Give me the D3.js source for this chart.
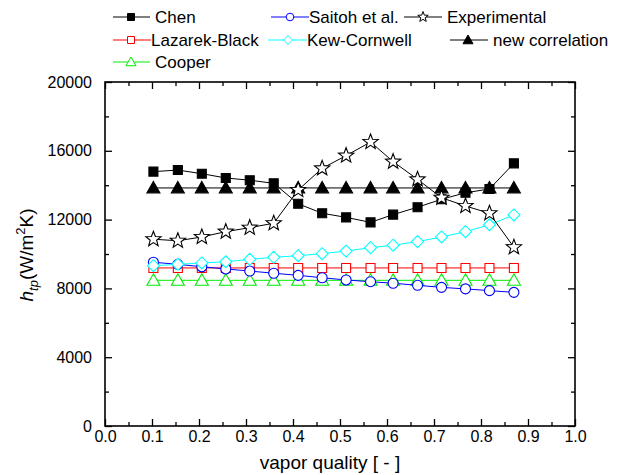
<!DOCTYPE html>
<html>
<head>
<meta charset="utf-8">
<script src="https://cdn.jsdelivr.net/npm/d3@7"></script>
<style>
  html, body { margin: 0; padding: 0; background: #fff; }
  svg { display: block; font-family: Arial, "Liberation Sans", sans-serif; }
</style>
</head>
<body>
<svg id="chart" width="621" height="475"></svg>
<script>
// ---- data ----
const vaporQuality = [0.103, 0.155, 0.206, 0.257, 0.308, 0.359, 0.411, 0.462, 0.513, 0.565, 0.613, 0.665, 0.716, 0.767, 0.818, 0.870];
const chen         = [14790, 14880, 14670, 14420, 14290, 14110, 12920, 12370, 12130, 11840, 12290, 12720, 13180, 13560, 13780, 15270];
const lazarekBlack = [9190, 9190, 9190, 9190, 9190, 9190, 9190, 9190, 9190, 9190, 9190, 9190, 9190, 9190, 9190, 9190];
const cooper       = [8470, 8470, 8470, 8470, 8470, 8470, 8470, 8470, 8470, 8470, 8470, 8470, 8470, 8470, 8470, 8470];
const saitoh       = [9520, 9400, 9260, 9130, 9010, 8880, 8760, 8620, 8490, 8390, 8300, 8180, 8060, 7970, 7870, 7770];
const kewCornwell  = [9320, 9400, 9480, 9550, 9690, 9810, 9900, 10020, 10170, 10370, 10510, 10720, 10990, 11300, 11700, 12270];
const experimental = [10860, 10770, 10990, 11300, 11530, 11790, 13720, 14980, 15720, 16510, 15370, 14340, 13270, 12790, 12370, 10390];
const newCorrelation = [13840, 13840, 13840, 13840, 13840, 13840, 13840, 13840, 13840, 13840, 13840, 13840, 13840, 13840, 13840, 13840];
const xTicks = [0.0, 0.1, 0.2, 0.3, 0.4, 0.5, 0.6, 0.7, 0.8, 0.9, 1.0];
const yTicks = [0, 4000, 8000, 12000, 16000, 20000];

// ---- layout ----
const L = 105, R = 575, T = 82, B = 426;
const svg = d3.select("#chart");
const x = d3.scaleLinear().domain([0, 1]).range([L, R]);
const y = d3.scaleLinear().domain([0, 20000]).range([B, T]);

// marker shapes
function shapePath(type, s) {
  const p = d3.path();
  if (type === "square") { p.rect(-s, -s, 2*s, 2*s); }
  else if (type === "circle") { p.arc(0, 0, s, 0, 2*Math.PI); p.closePath(); }
  else if (type === "diamond") { p.moveTo(0,-s); p.lineTo(s,0); p.lineTo(0,s); p.lineTo(-s,0); p.closePath(); }
  else if (type === "triangle") { p.moveTo(0,-s); p.lineTo(s*1.0, s*0.75); p.lineTo(-s*1.0, s*0.75); p.closePath(); }
  else if (type === "star") {
    const ri = s*0.42;
    for (let i = 0; i < 10; i++) {
      const r = i % 2 === 0 ? s : ri;
      const a = -Math.PI/2 + i*Math.PI/5;
      if (i === 0) p.moveTo(r*Math.cos(a), r*Math.sin(a)); else p.lineTo(r*Math.cos(a), r*Math.sin(a));
    }
    p.closePath();
  }
  return p.toString();
}

const series = [
  {name: "Chen", values: chen, color: "#000", shape: "square", fill: "#000", size: 4.5, lsize: 3.5},
  {name: "Lazarek-Black", values: lazarekBlack, color: "#ff0000", shape: "square", fill: "#fff", size: 4.5, lsize: 3.5},
  {name: "Cooper", values: cooper, color: "#00ee00", shape: "triangle", fill: "#fff", size: 6.5, lsize: 5},
  {name: "Saitoh et al.", values: saitoh, color: "#0000ff", shape: "circle", fill: "#fff", size: 5, lsize: 3.8},
  {name: "Kew-Cornwell", values: kewCornwell, color: "#00ffff", shape: "diamond", fill: "#fff", size: 6, lsize: 4.5},
  {name: "new correlation", values: newCorrelation, color: "#000", shape: "triangle", fill: "#000", size: 6.5, lsize: 5},
  {name: "Experimental", values: experimental, color: "#000", shape: "star", fill: "#fff", size: 8, lsize: 5.5}
];

// ---- axes ----
const minorX = d3.range(0.05, 1, 0.1);
const minorY = d3.range(2000, 20000, 4000);
function styleAxis(g) {
  g.select(".domain").remove();
  g.selectAll("line").attr("stroke", "#000").attr("stroke-width", 1.3);
  g.selectAll("text").attr("fill", "#000").attr("font-size", 16);
}
svg.append("g").attr("transform", `translate(0,${B})`)
  .call(d3.axisBottom(x).tickValues(xTicks).tickFormat(d3.format(".1f")).tickSize(-7).tickPadding(5)).call(styleAxis);
svg.append("g").attr("transform", `translate(0,${B})`)
  .call(d3.axisBottom(x).tickValues(minorX).tickFormat("").tickSize(-4)).call(styleAxis);
svg.append("g").attr("transform", `translate(0,${T})`)
  .call(d3.axisTop(x).tickValues(xTicks).tickFormat("").tickSize(-7)).call(styleAxis);
svg.append("g").attr("transform", `translate(0,${T})`)
  .call(d3.axisTop(x).tickValues(minorX).tickFormat("").tickSize(-4)).call(styleAxis);
svg.append("g").attr("transform", `translate(${L},0)`)
  .call(d3.axisLeft(y).tickValues(yTicks).tickFormat(d3.format("d")).tickSize(-7).tickPadding(13)).call(styleAxis);
svg.append("g").attr("transform", `translate(${L},0)`)
  .call(d3.axisLeft(y).tickValues(minorY).tickFormat("").tickSize(-4)).call(styleAxis);
svg.append("g").attr("transform", `translate(${R},0)`)
  .call(d3.axisRight(y).tickValues(yTicks).tickFormat("").tickSize(-7)).call(styleAxis);
svg.append("g").attr("transform", `translate(${R},0)`)
  .call(d3.axisRight(y).tickValues(minorY).tickFormat("").tickSize(-4)).call(styleAxis);

svg.append("rect").attr("x", L).attr("y", T).attr("width", R - L).attr("height", B - T)
  .attr("fill", "none").attr("stroke", "#000").attr("stroke-width", 1.6);

// ---- data series ----
const line = d3.line().x((d, i) => x(vaporQuality[i])).y(d => y(d));
series.forEach(s => {
  const g = svg.append("g");
  g.append("path").datum(s.values).attr("d", line).attr("fill", "none")
    .attr("stroke", s.color).attr("stroke-width", 1);
  g.selectAll("path.m").data(s.values).join("path").attr("class", "m")
    .attr("transform", (d, i) => `translate(${x(vaporQuality[i])},${y(d)})`)
    .attr("d", shapePath(s.shape, s.size))
    .attr("fill", s.fill).attr("stroke", s.color).attr("stroke-width", 1.1);
});

// ---- legend ----
const legendPos = {
  "Chen":            {x1: 113, x2: 150, m: 131, tx: 155, y: 17},
  "Lazarek-Black":   {x1: 113, x2: 151, m: 131, tx: 151, y: 40},
  "Cooper":          {x1: 113, x2: 150, m: 131, tx: 155, y: 62},
  "Saitoh et al.":   {x1: 271, x2: 309, m: 290, tx: 309, y: 17},
  "Kew-Cornwell":    {x1: 268, x2: 307, m: 288, tx: 307, y: 40},
  "Experimental":    {x1: 404, x2: 442, m: 423, tx: 447, y: 17},
  "new correlation": {x1: 450, x2: 488, m: 468, tx: 493, y: 40}
};
series.forEach(s => {
  const p = legendPos[s.name];
  const g = svg.append("g");
  g.append("line").attr("x1", p.x1).attr("x2", p.x2).attr("y1", p.y).attr("y2", p.y)
    .attr("stroke", s.color).attr("stroke-width", 1);
  g.append("path").attr("transform", `translate(${p.m},${p.y})`)
    .attr("d", shapePath(s.shape, s.lsize)).attr("fill", s.fill).attr("stroke", s.color).attr("stroke-width", 1);
  g.append("text").attr("x", p.tx).attr("y", p.y + 6).attr("font-size", 17).attr("fill", "#000").text(s.name);
});

// ---- axis titles ----
svg.append("text").attr("x", 330).attr("y", 469).attr("text-anchor", "middle")
  .attr("font-size", 19).attr("fill", "#000").text("vapor quality [ - ]");

const yt = svg.append("text").attr("transform", "translate(33,255) rotate(-90)")
  .attr("text-anchor", "middle").attr("font-size", 19).attr("fill", "#000");
yt.append("tspan").attr("font-style", "italic").text("h");
yt.append("tspan").attr("font-style", "italic").attr("font-size", 13).attr("dy", 5).text("tp");
yt.append("tspan").attr("dy", -5).text("(W/m");
yt.append("tspan").attr("font-size", 13).attr("dy", -8).text("2");
yt.append("tspan").attr("dy", 8).text("K)");
</script>
</body>
</html>
